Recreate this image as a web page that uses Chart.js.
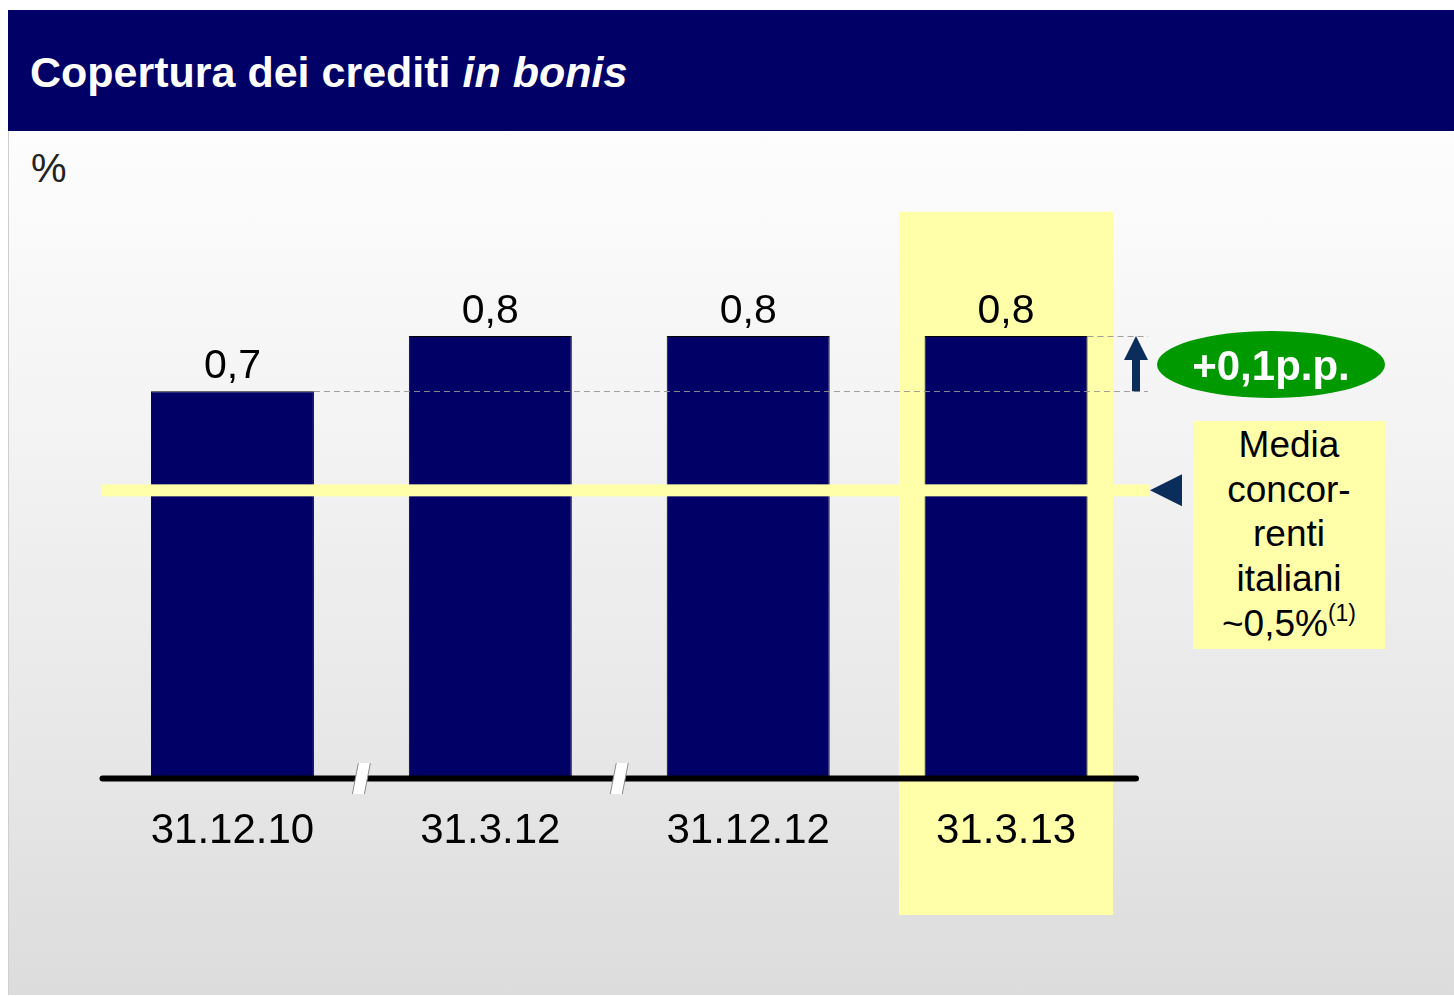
<!DOCTYPE html>
<html lang="it">
<head>
<meta charset="utf-8">
<title>Copertura dei crediti in bonis</title>
<script src="https://cdn.jsdelivr.net/npm/chart.js@4.4.1/dist/chart.umd.min.js"></script>
<style>
    html, body {
        margin: 0;
        padding: 0;
        background: #ffffff;
    }
    body {
        position: relative;
        width: 1454px;
        height: 996px;
        overflow: hidden;
        font-family: 'Liberation Sans', Arial, Helvetica, sans-serif;
    }
    #titolo {
        position: absolute;
        left: 8px;
        top: 10px;
        width: 1446px;
        height: 121px;
        background: #000066;
        color: #ffffff;
        font-weight: bold;
        font-size: 43px;
        box-sizing: border-box;
        padding-left: 22px;
        line-height: 125px;
        white-space: nowrap;
    }
    #pannello {
        position: absolute;
        left: 8px;
        top: 131px;
        width: 1446px;
        height: 864px;
        background: linear-gradient(#fdfdfd 0%, #f3f3f3 35%, #e6e6e6 75%, #dcdcdc 100%);
        border-left: 1px solid #cfcfcf;
        box-sizing: border-box;
    }
    #unita {
        position: absolute;
        left: 31px;
        top: 146px;
        font-size: 40px;
        color: #222222;
    }
    #grafico {
        position: absolute;
        left: 0;
        top: 0;
    }
    #variazione {
        position: absolute;
        left: 1157px;
        top: 331px;
        width: 228px;
        height: 67px;
        border-radius: 50%;
        background: #009900;
        color: #ffffff;
        font-weight: bold;
        font-size: 42px;
        line-height: 69px;
        text-align: center;
    }
    #media-box {
        position: absolute;
        left: 1193px;
        top: 421px;
        width: 192px;
        height: 228px;
        background: #ffffaa;
        color: #000000;
        font-size: 37px;
        line-height: 44.7px;
        text-align: center;
        box-sizing: border-box;
        padding-top: 2px;
    }
    #media-box sup {
        font-size: 23px;
        vertical-align: 15px;
        line-height: 0;
    }
</style>
</head>
<body>
<div id="pannello"></div>
<div id="titolo">Copertura dei crediti <i>in bonis</i></div>
<div id="unita">%</div>
<canvas id="grafico" width="1454" height="996"></canvas>
<div id="variazione">+0,1p.p.</div>
<div id="media-box">Media<br>concor-<br>renti<br>italiani<br>~0,5%<sup>(1)</sup></div>

<script>
const CATEGORIE = ['31.12.10', '31.3.12', '31.12.12', '31.3.13'];
const COPERTURA = [0.7, 0.8, 0.8, 0.8];
const MEDIA_CONCORRENTI = [0.52];
const INTERRUZIONI_DOPO = [0, 1];
const INDICE_EVIDENZIATO = 3;

const BLU_BARRE = '#000066';
const GIALLO = '#ffffaa';
const BLU_FRECCIA = '#0b2d5b';
const FONT = "'Liberation Sans', Arial, sans-serif";

function formatarValore(v) {
    return v.toFixed(1).replace('.', ',');
}

const pluginDecorazioni = {
    id: 'decorazioni',
    beforeDatasetsDraw(chart) {
        const { ctx, scales: { x, y } } = chart;
        const cx = x.getPixelForValue(INDICE_EVIDENZIATO);
        const y0 = y.getPixelForValue(0);
        ctx.save();
        ctx.fillStyle = GIALLO;
        ctx.fillRect(cx - 107, y.top - 14, 214, y0 + 138 - (y.top - 14));
        ctx.restore();
    },
    afterDatasetsDraw(chart) {
        const { ctx, scales: { x, y } } = chart;
        const barre = chart.getDatasetMeta(0).data;
        const y0 = y.getPixelForValue(0);
        const yMedia = y.getPixelForValue(MEDIA_CONCORRENTI[0]);
        const fineDestra = x.right + 13;

        ctx.save();

        // linea della media dei concorrenti
        ctx.fillStyle = GIALLO;
        ctx.fillRect(x.left - 2.5, yMedia - 6, fineDestra + 2 - (x.left - 2.5), 12);

        // linee tratteggiate di riferimento
        ctx.strokeStyle = 'rgba(150,150,150,0.9)';
        ctx.lineWidth = 1;
        ctx.setLineDash([6, 4]);
        const primo = barre[0];
        const ultimo = barre[barre.length - 1];
        ctx.beginPath();
        ctx.moveTo(primo.x + primo.width / 2, Math.round(primo.y) + 0.5);
        ctx.lineTo(fineDestra, Math.round(primo.y) + 0.5);
        ctx.moveTo(ultimo.x + ultimo.width / 2, Math.round(ultimo.y) + 0.5);
        ctx.lineTo(fineDestra, Math.round(ultimo.y) + 0.5);
        ctx.stroke();
        ctx.setLineDash([]);

        // asse orizzontale
        ctx.strokeStyle = '#000000';
        ctx.lineWidth = 6;
        ctx.lineCap = 'round';
        ctx.beginPath();
        ctx.moveTo(x.left - 1, y0 + 1.5);
        ctx.lineTo(x.right + 1, y0 + 1.5);
        ctx.stroke();

        // segni di interruzione dell'asse
        ctx.lineCap = 'butt';
        for (const i of INTERRUZIONI_DOPO) {
            const mx = (x.getPixelForValue(i) + x.getPixelForValue(i + 1)) / 2;
            const my = y0 + 1.5;
            ctx.beginPath();
            ctx.moveTo(mx - 3, my - 15.5);
            ctx.lineTo(mx + 9, my - 15.5);
            ctx.lineTo(mx + 3, my + 15.5);
            ctx.lineTo(mx - 9, my + 15.5);
            ctx.closePath();
            ctx.fillStyle = '#ffffff';
            ctx.fill();
            ctx.strokeStyle = '#8a8a8a';
            ctx.lineWidth = 1;
            ctx.beginPath();
            ctx.moveTo(mx - 3, my - 15.5);
            ctx.lineTo(mx - 9, my + 15.5);
            ctx.moveTo(mx + 9, my - 15.5);
            ctx.lineTo(mx + 3, my + 15.5);
            ctx.stroke();
        }

        // triangolo che indica la media
        ctx.fillStyle = BLU_FRECCIA;
        ctx.beginPath();
        ctx.moveTo(fineDestra + 2, yMedia);
        ctx.lineTo(fineDestra + 34, yMedia - 16);
        ctx.lineTo(fineDestra + 34, yMedia + 16);
        ctx.closePath();
        ctx.fill();

        // freccia della variazione
        const ax = x.right + 1;
        const yDa = y.getPixelForValue(COPERTURA[0]);
        const yA = y.getPixelForValue(COPERTURA[COPERTURA.length - 1]);
        ctx.beginPath();
        ctx.moveTo(ax, yA);
        ctx.lineTo(ax + 12, yA + 24);
        ctx.lineTo(ax + 4, yA + 24);
        ctx.lineTo(ax + 4, yDa);
        ctx.lineTo(ax - 4, yDa);
        ctx.lineTo(ax - 4, yA + 24);
        ctx.lineTo(ax - 12, yA + 24);
        ctx.closePath();
        ctx.fill();

        // valori sopra le barre
        ctx.fillStyle = '#000000';
        ctx.textAlign = 'center';
        ctx.textBaseline = 'alphabetic';
        ctx.font = `41px ${FONT}`;
        barre.forEach((barra, i) => {
            ctx.fillText(formatarValore(COPERTURA[i]), barra.x, barra.y - 13);
        });

        // etichette delle categorie
        ctx.font = `42px ${FONT}`;
        CATEGORIE.forEach((nome, i) => {
            ctx.fillText(nome, x.getPixelForValue(i), y0 + 66);
        });

        ctx.restore();
    },
};

new Chart(document.getElementById('grafico'), {
    type: 'bar',
    data: {
        labels: CATEGORIE,
        datasets: [{
            data: COPERTURA,
            backgroundColor: BLU_BARRE,
            borderColor: '#000000',
            borderWidth: 1,
            categoryPercentage: 1,
            barPercentage: 0.632,
        }],
    },
    options: {
        responsive: false,
        animation: false,
        devicePixelRatio: 1,
        layout: {
            padding: { left: 103.5, right: 319, top: 225.75, bottom: 219 },
        },
        scales: {
            x: { display: false },
            y: { display: false, min: 0, max: 1 },
        },
        plugins: {
            legend: { display: false },
            tooltip: { enabled: false },
        },
    },
    plugins: [pluginDecorazioni],
});
</script>
</body>
</html>
